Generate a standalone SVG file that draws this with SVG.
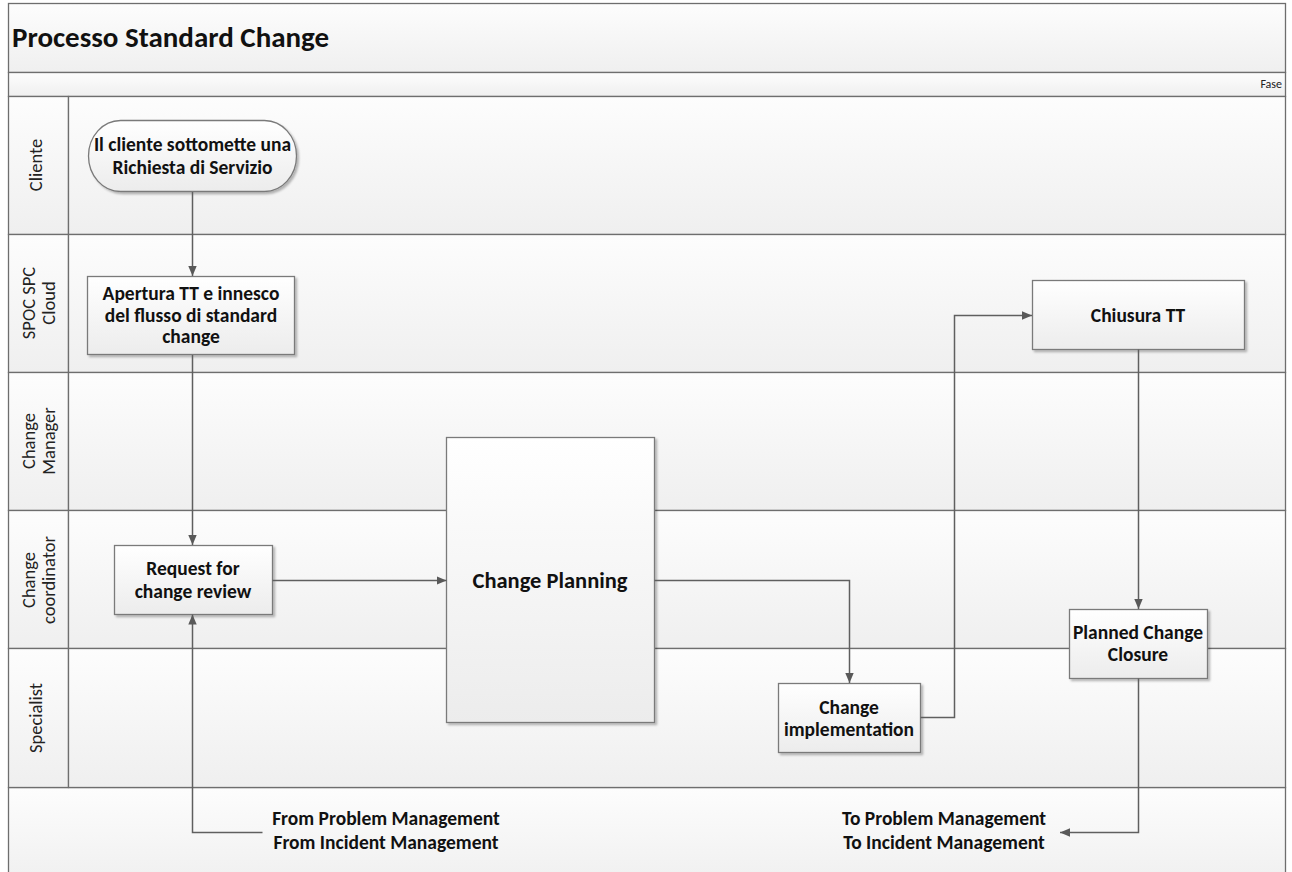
<svg xmlns="http://www.w3.org/2000/svg" width="1292" height="872" viewBox="0 0 1292 872">
<defs>
<linearGradient id="gLane" x1="0" y1="0" x2="0" y2="1"><stop offset="0" stop-color="#fdfdfd"/><stop offset="1" stop-color="#efefef"/></linearGradient>
<linearGradient id="gBox" x1="0" y1="0" x2="0" y2="1"><stop offset="0" stop-color="#ffffff"/><stop offset="1" stop-color="#ececec"/></linearGradient>
<filter id="sh" x="-10%" y="-10%" width="130%" height="130%"><feDropShadow dx="2" dy="2" stdDeviation="1.2" flood-color="#000" flood-opacity="0.28"/></filter>
<marker id="arr" viewBox="0 0 10 10" refX="10" refY="5" markerWidth="10" markerHeight="10" orient="auto" markerUnits="userSpaceOnUse"><path d="M0,0.8 L10,5 L0,9.2 z" fill="#595959"/></marker>
<style>
.band{fill:url(#gLane);stroke:#6e6e6e;stroke-width:1.3}
.box{fill:url(#gBox);stroke:#7a7a7a;stroke-width:1.3;filter:url(#sh)}
.conn{fill:none;stroke:#5f5f5f;stroke-width:1.5}
.t{font-family:Calibri,Carlito,"Liberation Sans",Arial,sans-serif;font-weight:bold;font-size:19.5px;fill:#111;text-anchor:middle}
.lab{font-family:Calibri,Carlito,"Liberation Sans",Arial,sans-serif;font-size:18.5px;fill:#222;text-anchor:middle}
</style>
</defs>

<g id="pool">
<rect class="band" x="8.5" y="3.5" width="1277" height="69"/>
<text x="12" y="47" style="font-family:Calibri,Carlito,'Liberation Sans',Arial,sans-serif;font-weight:bold;font-size:29px;fill:#111">Processo Standard Change</text>
<rect class="band" x="8.5" y="72.5" width="1277" height="24"/>
<text x="1282" y="88" style="font-family:Calibri,Carlito,'Liberation Sans',Arial,sans-serif;font-size:12px;fill:#222;text-anchor:end">Fase</text>
<rect class="band" x="8.5" y="787.5" width="1277" height="100"/>
</g>

<g id="lane-cliente">
<rect class="band" x="8.5" y="96.5" width="60" height="138"/>
<rect class="band" x="68.5" y="96.5" width="1217" height="138"/>
<text class="lab" transform="translate(42,165) rotate(-90)">Cliente</text>
</g>
<g id="lane-spoc">
<rect class="band" x="8.5" y="234.5" width="60" height="138"/>
<rect class="band" x="68.5" y="234.5" width="1217" height="138"/>
<text class="lab" transform="translate(35,303) rotate(-90)">SPOC SPC</text>
<text class="lab" transform="translate(55,303) rotate(-90)">Cloud</text>
</g>
<g id="lane-manager">
<rect class="band" x="8.5" y="372.5" width="60" height="138"/>
<rect class="band" x="68.5" y="372.5" width="1217" height="138"/>
<text class="lab" transform="translate(35,441) rotate(-90)">Change</text>
<text class="lab" transform="translate(55,441) rotate(-90)">Manager</text>
</g>
<g id="lane-coordinator">
<rect class="band" x="8.5" y="510.5" width="60" height="138"/>
<rect class="band" x="68.5" y="510.5" width="1217" height="138"/>
<text class="lab" transform="translate(35,580) rotate(-90)">Change</text>
<text class="lab" transform="translate(55,580) rotate(-90)">coordinator</text>
</g>
<g id="lane-specialist">
<rect class="band" x="8.5" y="648.5" width="60" height="139"/>
<rect class="band" x="68.5" y="648.5" width="1217" height="139"/>
<text class="lab" transform="translate(42,718) rotate(-90)">Specialist</text>
</g>

<g id="n-start">
<rect class="box" x="88.5" y="120.5" width="208" height="71" rx="32" ry="35.5"/>
<text class="t" x="192.5" y="150.5">Il cliente sottomette una</text>
<text class="t" x="192.5" y="173.5">Richiesta di Servizio</text>
</g>
<g id="n-apertura">
<rect class="box" x="87.5" y="276.5" width="207" height="78"/>
<text class="t" x="191" y="300">Apertura TT e innesco</text>
<text class="t" x="191" y="321.5">del flusso di standard</text>
<text class="t" x="191" y="343">change</text>
</g>
<g id="n-request">
<rect class="box" x="114.5" y="545.5" width="158" height="69"/>
<text class="t" x="193" y="574.5">Request for</text>
<text class="t" x="193" y="597.5">change review</text>
</g>
<g id="n-planning">
<rect class="box" x="446.5" y="437.5" width="208" height="285"/>
<text class="t" x="550" y="588" style="font-size:22.5px">Change Planning</text>
</g>
<g id="n-impl">
<rect class="box" x="778.5" y="683.5" width="142" height="69"/>
<text class="t" x="849" y="713.5">Change</text>
<text class="t" x="849" y="736">implementation</text>
</g>
<g id="n-chiusura">
<rect class="box" x="1032.5" y="280.5" width="212" height="69"/>
<text class="t" x="1138" y="321.5">Chiusura TT</text>
</g>
<g id="n-closure">
<rect class="box" x="1069.5" y="609.5" width="138" height="69"/>
<text class="t" x="1138" y="638.5">Planned Change</text>
<text class="t" x="1138" y="661">Closure</text>
</g>
<g id="n-from">
<text class="t" x="386" y="825">From Problem Management</text>
<text class="t" x="386" y="849">From Incident Management</text>
</g>
<g id="n-to">
<text class="t" x="944" y="825">To Problem Management</text>
<text class="t" x="944" y="849">To Incident Management</text>
</g>

<g id="connectors">
<path class="conn" d="M192.5,192 L192.5,276" marker-end="url(#arr)"/>
<path class="conn" d="M192.5,355 L192.5,545" marker-end="url(#arr)"/>
<path class="conn" d="M272.5,580.5 L446.5,580.5" marker-end="url(#arr)"/>
<path class="conn" d="M654.5,580.5 L849.5,580.5 L849.5,683" marker-end="url(#arr)"/>
<path class="conn" d="M920.5,717.5 L954.5,717.5 L954.5,315.5 L1032,315.5" marker-end="url(#arr)"/>
<path class="conn" d="M1138.5,349.5 L1138.5,609" marker-end="url(#arr)"/>
<path class="conn" d="M262.5,832.5 L192.5,832.5 L192.5,614.5" marker-end="url(#arr)"/>
<path class="conn" d="M1138.5,678.5 L1138.5,832.5 L1060,832.5" marker-end="url(#arr)"/>
</g>
</svg>
